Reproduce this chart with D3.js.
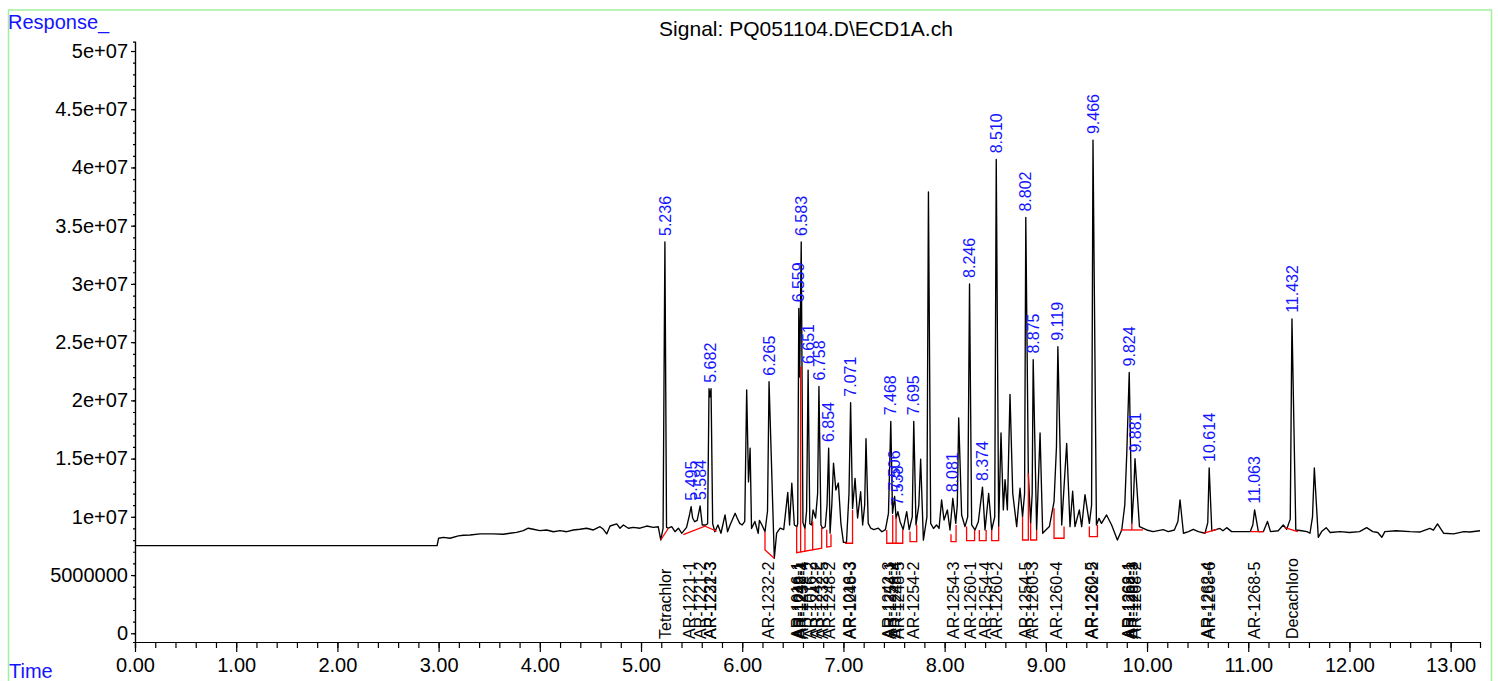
<!DOCTYPE html>
<html>
<head>
<meta charset="utf-8">
<script src="https://cdnjs.cloudflare.com/ajax/libs/d3/7.8.5/d3.min.js"></script>
<style>
    body { margin: 0; background: #fff; }
    svg { display: block; font-family: "Liberation Sans", Arial, sans-serif; }
    .axis path, .axis line { stroke: #000; stroke-width: 1.2; }
    .axis text { font-size: 20px; fill: #000; }
</style>
</head>
<body>
<div id="chart"></div>
<script>

// chromatogram trace, [time (min), response (millions)]
var trace = [
    [0.00, 7.52], [2.985, 7.52], [3.000, 8.16], [3.047, 8.24], [3.113, 8.16], [3.195, 8.36],
    [3.245, 8.42], [3.310, 8.44], [3.410, 8.53], [3.540, 8.53], [3.640, 8.50], [3.705, 8.59],
    [3.770, 8.67], [3.837, 8.81], [3.886, 9.02], [3.936, 8.93], [4.000, 8.81], [4.068, 8.87],
    [4.134, 8.72], [4.200, 8.81], [4.266, 8.72], [4.331, 8.87], [4.397, 8.93], [4.463, 9.02],
    [4.529, 8.87], [4.595, 9.15], [4.628, 8.93], [4.661, 8.53], [4.694, 9.21], [4.760, 9.39],
    [4.792, 9.02], [4.826, 9.30], [4.875, 9.02], [4.924, 9.10], [4.990, 9.02], [5.056, 9.21],
    [5.122, 9.10], [5.170, 9.15], [5.195, 8.01], [5.218, 9.00], [5.236, 33.6], [5.252, 9.10],
    [5.270, 9.02], [5.303, 9.15], [5.336, 8.72], [5.369, 9.02], [5.402, 8.59], [5.418, 8.75],
    [5.450, 9.10], [5.480, 10.2], [5.495, 10.87], [5.510, 9.90], [5.530, 9.58], [5.555, 9.70],
    [5.584, 10.93], [5.605, 9.30], [5.640, 9.30], [5.658, 9.40], [5.672, 21.0], [5.682, 20.3],
    [5.692, 21.0], [5.708, 9.40], [5.730, 8.72], [5.760, 9.30], [5.790, 8.59], [5.830, 10.16],
    [5.855, 8.72], [5.880, 9.30], [5.930, 10.3], [5.950, 9.90], [5.975, 9.44], [6.000, 9.30],
    [6.025, 9.60], [6.044, 20.9], [6.062, 13.0], [6.078, 15.9], [6.092, 9.00], [6.125, 9.60],
    [6.158, 8.59], [6.170, 9.70], [6.195, 9.30], [6.225, 8.72], [6.250, 10.5], [6.265, 21.6],
    [6.317, 6.44], [6.340, 8.60], [6.375, 9.02], [6.410, 8.90], [6.450, 12.1], [6.468, 9.30],
    [6.490, 12.88], [6.515, 9.30], [6.540, 9.15], [6.548, 9.40], [6.559, 27.9], [6.568, 22.0],
    [6.583, 33.6], [6.600, 9.50], [6.620, 9.00], [6.636, 10.5], [6.651, 22.6], [6.668, 9.40],
    [6.685, 9.30], [6.700, 10.6], [6.725, 9.90], [6.745, 12.0], [6.758, 21.2], [6.778, 9.30],
    [6.795, 9.02], [6.820, 9.15], [6.838, 11.0], [6.854, 15.9], [6.868, 8.60], [6.885, 11.0],
    [6.902, 14.6], [6.925, 12.3], [6.950, 12.9], [6.975, 9.44], [7.000, 7.80], [7.030, 7.80],
    [7.055, 12.0], [7.071, 19.8], [7.090, 10.7], [7.115, 13.3], [7.140, 9.90], [7.170, 12.15],
    [7.190, 9.30], [7.210, 11.0], [7.223, 16.7], [7.245, 9.44], [7.270, 9.02], [7.300, 8.90],
    [7.345, 9.02], [7.380, 8.72], [7.415, 8.90], [7.445, 10.3], [7.468, 18.2], [7.485, 10.3],
    [7.506, 11.75], [7.520, 9.87], [7.538, 10.45], [7.560, 9.58], [7.590, 8.90], [7.625, 10.45],
    [7.650, 8.90], [7.680, 10.0], [7.695, 18.2], [7.717, 9.30], [7.745, 11.0], [7.763, 14.94],
    [7.790, 8.00], [7.825, 10.0], [7.840, 37.9], [7.862, 9.44], [7.890, 9.00], [7.920, 9.30],
    [7.945, 9.00], [7.970, 11.45], [7.994, 9.73], [8.027, 10.59], [8.053, 8.87], [8.081, 11.59],
    [8.110, 9.44], [8.125, 11.0], [8.139, 18.5], [8.168, 10.16], [8.201, 9.16], [8.228, 10.0],
    [8.246, 30.0], [8.267, 9.30], [8.300, 8.87], [8.333, 9.58], [8.374, 12.55], [8.399, 8.87],
    [8.435, 12.0], [8.465, 8.87], [8.495, 10.0], [8.510, 40.7], [8.534, 9.16], [8.557, 17.2],
    [8.580, 10.59], [8.597, 13.2], [8.620, 10.59], [8.646, 20.5], [8.673, 12.0], [8.712, 9.16],
    [8.745, 12.45], [8.770, 10.0], [8.790, 12.0], [8.802, 35.7], [8.827, 13.74], [8.850, 9.44],
    [8.865, 12.0], [8.875, 23.5], [8.909, 8.87], [8.943, 17.2], [8.969, 8.59], [9.000, 8.87],
    [9.035, 9.16], [9.081, 11.3], [9.105, 16.0], [9.119, 24.6], [9.157, 9.30], [9.206, 16.3],
    [9.239, 9.16], [9.265, 12.2], [9.288, 9.16], [9.331, 10.59], [9.354, 9.16], [9.387, 11.9],
    [9.430, 9.44], [9.452, 11.0], [9.466, 42.35], [9.500, 9.30], [9.525, 9.87], [9.550, 9.44],
    [9.600, 10.16], [9.650, 9.30], [9.707, 8.00], [9.750, 8.87], [9.780, 11.0], [9.800, 15.5],
    [9.824, 22.4], [9.850, 9.44], [9.868, 12.0], [9.881, 15.0], [9.925, 9.16], [9.997, 8.87],
    [10.06, 8.73], [10.16, 8.90], [10.21, 8.73], [10.27, 8.87], [10.305, 9.6], [10.326, 11.45],
    [10.36, 8.59], [10.41, 8.73], [10.457, 8.93], [10.507, 8.73], [10.573, 8.59], [10.60, 9.50],
    [10.614, 14.2], [10.64, 8.80], [10.72, 9.00], [10.75, 8.80], [10.787, 9.07], [10.836, 8.73],
    [10.92, 8.73], [11.02, 8.73], [11.045, 9.3], [11.063, 10.6], [11.10, 8.73], [11.15, 8.73],
    [11.19, 9.60], [11.22, 8.73], [11.296, 8.80], [11.346, 9.30], [11.38, 8.93], [11.415, 9.8],
    [11.432, 27.0], [11.47, 8.87], [11.53, 8.80], [11.58, 8.73], [11.61, 8.59], [11.635, 10.0],
    [11.653, 14.2], [11.692, 8.24], [11.725, 8.73], [11.77, 9.07], [11.81, 8.65], [11.91, 8.73],
    [12.00, 8.65], [12.10, 8.73], [12.17, 9.07], [12.23, 8.73], [12.28, 8.65], [12.32, 8.24],
    [12.35, 8.73], [12.46, 8.80], [12.60, 8.73], [12.70, 8.70], [12.795, 9.00], [12.83, 8.85],
    [12.87, 9.39], [12.93, 8.59], [13.03, 8.53], [13.13, 8.73], [13.19, 8.70], [13.29, 8.80]
];

// integrated peaks (retention times printed above the trace)
var peakTimes = [5.236, 5.495, 5.584, 5.682, 6.265, 6.559, 6.583, 6.651, 6.758, 6.854,
    7.071, 7.468, 7.506, 7.538, 7.695, 8.081, 8.246, 8.374, 8.510, 8.802, 8.875, 9.119,
    9.466, 9.824, 9.881, 10.614, 11.063, 11.432];

// compound names and their expected times
var compoundNames = ["Tetrachlor", "AR-1221-1", "AR-1221-2", "AR-1221-3", "AR-1232-3",
    "AR-1232-2", "AR-1016-1", "AR-1242-1", "AR-1248-1", "AR-1232-4", "AR-1016-2",
    "AR-1242-2", "AR-1232-5", "AR-1248-2", "AR-1016-3", "AR-1248-3", "AR-1242-3",
    "AR-1254-1", "AR-1248-4", "AR-1248-5", "AR-1254-2", "AR-1254-3", "AR-1260-1",
    "AR-1254-4", "AR-1260-2", "AR-1254-5", "AR-1260-3", "AR-1260-4", "AR-1260-5",
    "AR-1262-2", "AR-1262-1", "AR-1268-1", "AR-1262-3", "AR-1268-2", "AR-1262-4",
    "AR-1268-6", "AR-1268-5", "Decachloro"];
var compoundTimes = [5.245, 5.478, 5.583, 5.688, 5.682,
    6.258, 6.548, 6.562, 6.578, 6.592, 6.670,
    6.735, 6.795, 6.860, 7.060, 7.070, 7.446,
    7.468, 7.510, 7.540, 7.690, 8.086, 8.250,
    8.400, 8.510, 8.800, 8.868, 9.107, 9.453,
    9.460, 9.815, 9.824, 9.858, 9.880, 10.600,
    10.612, 11.060, 11.440];

// integration baselines and drop lines, [time, response (millions)]
var baselines = [
    [[5.195, 8.01], [5.270, 9.02]],
    [[5.418, 8.47], [5.632, 9.19], [5.748, 8.76]],
    [[6.225, 8.72], [6.225, 7.15], [6.317, 6.44]],
    [[6.538, 9.15], [6.538, 6.92], [6.785, 7.30], [6.785, 9.10]],
    [[6.577, 22.9], [6.577, 6.95]],
    [[6.620, 9.00], [6.620, 7.00]],
    [[6.696, 9.60], [6.696, 7.12]],
    [[6.835, 8.90], [6.835, 7.40], [6.877, 7.45], [6.877, 8.50]],
    [[7.016, 7.73], [7.090, 7.73], [7.090, 10.59]],
    [[7.428, 8.87], [7.428, 7.73], [7.586, 7.73], [7.586, 8.87]],
    [[7.487, 10.16], [7.487, 7.73]],
    [[7.520, 10.0], [7.520, 7.73]],
    [[7.658, 8.73], [7.658, 7.87], [7.724, 7.87], [7.724, 9.30]],
    [[8.063, 8.50], [8.063, 7.87], [8.113, 7.87], [8.113, 9.30]],
    [[8.217, 9.16], [8.217, 7.95], [8.296, 7.95], [8.296, 8.87]],
    [[8.343, 8.87], [8.343, 7.95], [8.410, 7.95], [8.410, 8.87]],
    [[8.465, 8.87], [8.465, 7.95], [8.534, 7.95], [8.534, 9.16]],
    [[8.770, 10.0], [8.770, 8.01], [8.827, 8.01], [8.827, 13.74]],
    [[8.850, 9.44], [8.850, 8.01], [8.909, 8.01], [8.909, 8.87]],
    [[9.081, 10.73], [9.081, 8.16], [9.180, 8.16], [9.180, 9.16]],
    [[9.430, 9.16], [9.430, 8.30], [9.510, 8.30], [9.510, 9.30]],
    [[9.740, 8.87], [9.960, 8.87]],
    [[9.850, 9.44], [9.850, 8.87]],
    [[10.56, 8.59], [10.69, 8.93]],
    [[11.02, 8.73], [11.15, 8.73]],
    [[11.36, 9.07], [11.49, 8.73]]
];

var MILLION = 1e6;

var outerWidth = 1498,
    outerHeight = 681;

var x = d3.scaleLinear().domain([0, 13.29]).range([135, 1480]);
var y = d3.scaleLinear().domain([-0.75e6, 50.8e6]).range([642, 41.7]);

var svg = d3.select("#chart")
    .append("svg")
    .attr("width", outerWidth)
    .attr("height", outerHeight);

// light green frame
svg.append("path")
    .attr("d", "M8.5,690 V10 H1491.5 V690")
    .attr("fill", "none")
    .attr("stroke", "#9ff09f")
    .attr("stroke-width", 1.5);

svg.append("text")
    .attr("x", 8)
    .attr("y", 29)
    .attr("fill", "#1414ff")
    .style("font-size", "20px")
    .text("Response_");

svg.append("text")
    .attr("x", 9)
    .attr("y", 678)
    .attr("fill", "#1414ff")
    .style("font-size", "20px")
    .text("Time");

svg.append("text")
    .attr("x", 806)
    .attr("y", 36)
    .attr("text-anchor", "middle")
    .style("font-size", "21px")
    .text("Signal: PQ051104.D\\ECD1A.ch");

//axes
var yFormat = function(v) {
    if (v === 0) return "0";
    if (v < 1e7) return String(v);
    return v.toExponential().replace(/e\+(\d)$/, "e+0$1");
};

svg.append("g")
    .attr("class", "axis")
    .attr("transform", "translate(135,0)")
    .call(d3.axisLeft(y).tickValues(d3.range(0, 5e7 + 1, 1e6)).tickSize(2).tickFormat(""));

svg.append("g")
    .attr("class", "axis")
    .attr("transform", "translate(135,0)")
    .call(d3.axisLeft(y).tickValues(d3.range(0, 5e7 + 1, 5e6)).tickSize(4).tickSizeOuter(0)
        .tickPadding(3).tickFormat(yFormat));

svg.append("g")
    .attr("class", "axis")
    .attr("transform", "translate(0,642)")
    .call(d3.axisBottom(x).tickValues(d3.range(0, 66).map(function(i) { return i * 0.2; }))
        .tickSize(6).tickFormat(""));

svg.append("g")
    .attr("class", "axis")
    .attr("transform", "translate(0,642)")
    .call(d3.axisBottom(x).tickValues(d3.range(0, 14)).tickSize(10).tickSizeOuter(0)
        .tickPadding(6).tickFormat(d3.format(".2f")));

// signal
var line = d3.line()
    .x(function(d) { return x(d[0]); })
    .y(function(d) { return y(d[1] * MILLION); });

svg.append("path")
    .datum(trace)
    .attr("fill", "none")
    .attr("stroke", "#000")
    .attr("stroke-width", 1.35)
    .attr("stroke-linejoin", "round")
    .attr("d", line);

svg.selectAll(".baseline")
    .data(baselines)
    .enter().append("path")
    .attr("class", "baseline")
    .attr("fill", "none")
    .attr("stroke", "#ff0000")
    .attr("stroke-width", 1.3)
    .attr("d", line);

// peak labels sit just above the apex
var apex = function(t) {
    return d3.max(trace.filter(function(d) { return Math.abs(d[0] - t) < 0.02; }),
        function(d) { return d[1]; });
};

svg.selectAll(".peak-label")
    .data(peakTimes)
    .enter().append("text")
    .attr("class", "peak-label")
    .attr("transform", function(t) {
        return "translate(" + x(t) + "," + (y(apex(t) * MILLION) - 6) + ") rotate(-90)";
    })
    .attr("dy", "0.35em")
    .attr("fill", "#1414ff")
    .style("font-size", "16px")
    .text(d3.format(".3f"));

svg.selectAll(".compound-label")
    .data(compoundNames)
    .enter().append("text")
    .attr("class", "compound-label")
    .attr("transform", function(d, i) {
        return "translate(" + x(compoundTimes[i]) + ",639) rotate(-90)";
    })
    .attr("dy", "0.35em")
    .attr("fill", "#000")
    .style("font-size", "16px")
    .text(function(d) { return d; });

</script>
</body>
</html>
